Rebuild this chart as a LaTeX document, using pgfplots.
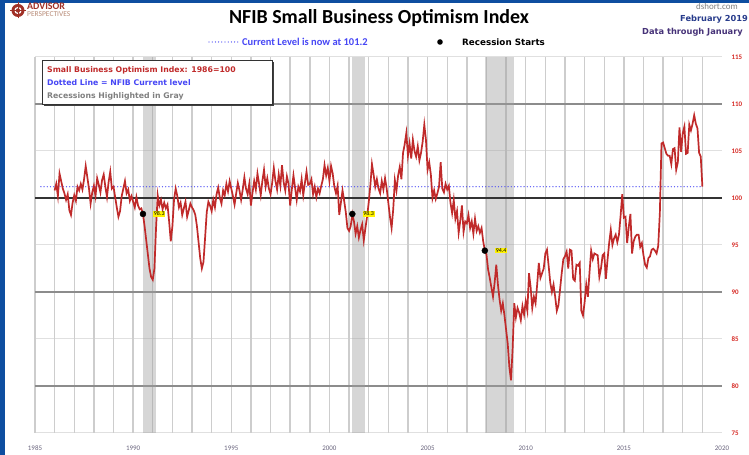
\documentclass[border=0pt]{standalone}
\usepackage{fontspec}
\setmainfont{Carlito}
\newfontfamily\dejavu{DejaVu Sans}
\usepackage{pgfplots}
\usepackage{pgfplotstable}
\pgfplotsset{compat=1.18}
\definecolor{frameblue}{RGB}{14,78,160}
\definecolor{nfibred}{RGB}{192,42,42}
\definecolor{lvlblue}{RGB}{70,70,245}
\definecolor{gridlight}{RGB}{224,224,224}
\definecolor{griddark}{RGB}{140,140,140}
\definecolor{gridv}{RGB}{205,205,205}
\definecolor{logored}{RGB}{160,48,38}
\definecolor{logotan}{RGB}{185,140,120}
\definecolor{xlab}{RGB}{105,100,125}
\definecolor{ylab}{RGB}{215,45,40}
\definecolor{datecol}{RGB}{40,60,140}
\definecolor{datacol}{RGB}{70,50,120}

\pgfplotstableread[row sep=\\]{
v\\
100.8\\ 101.5\\ 100.2\\ 102.6\\ 101.8\\ 101.0\\ 100.5\\ 99.8\\ 100.4\\ 98.7\\ 98.2\\ 99.5\\
100.3\\ 99.7\\ 101.2\\ 100.8\\ 101.5\\ 100.9\\ 102.0\\ 103.4\\ 102.2\\ 101.0\\ 99.4\\ 100.6\\
101.3\\ 100.2\\ 102.1\\ 101.4\\ 100.6\\ 101.9\\ 102.5\\ 101.2\\ 100.1\\ 101.7\\ 102.8\\ 101.0\\
101.2\\ 100.1\\ 99.0\\ 98.0\\ 98.6\\ 100.2\\ 101.0\\ 101.8\\ 100.5\\ 100.9\\ 99.7\\ 100.2\\
99.6\\ 99.0\\ 100.1\\ 99.2\\ 98.8\\ 98.9\\ 98.3\\ 97.0\\ 95.5\\ 94.0\\ 92.5\\ 91.6\\
91.3\\ 92.5\\ 96.8\\ 100.3\\ 99.2\\ 99.8\\ 98.8\\ 99.5\\ 98.9\\ 99.3\\ 97.5\\ 95.4\\
97.0\\ 99.8\\ 101.0\\ 100.2\\ 99.0\\ 99.5\\ 98.2\\ 98.9\\ 99.6\\ 98.0\\ 98.7\\ 99.4\\
99.0\\ 98.7\\ 98.2\\ 97.0\\ 95.3\\ 93.6\\ 92.5\\ 93.2\\ 95.8\\ 98.5\\ 99.6\\ 99.2\\
98.6\\ 99.8\\ 99.0\\ 100.4\\ 101.1\\ 100.0\\ 99.4\\ 100.8\\ 100.3\\ 101.5\\ 100.7\\ 101.8\\
101.0\\ 100.2\\ 99.3\\ 100.5\\ 101.6\\ 100.8\\ 99.8\\ 100.9\\ 102.2\\ 101.0\\ 100.4\\ 101.5\\
99.2\\ 100.6\\ 101.8\\ 100.9\\ 102.6\\ 101.5\\ 100.3\\ 101.8\\ 103.0\\ 101.2\\ 102.1\\ 101.0\\
100.4\\ 101.6\\ 103.2\\ 101.8\\ 100.9\\ 102.5\\ 101.3\\ 103.5\\ 101.7\\ 100.8\\ 102.3\\ 101.5\\
99.2\\ 100.9\\ 102.4\\ 101.1\\ 99.8\\ 101.2\\ 100.7\\ 102.0\\ 100.3\\ 101.6\\ 102.8\\ 101.4\\
101.5\\ 102.0\\ 100.4\\ 101.2\\ 100.1\\ 101.0\\ 100.5\\ 101.3\\ 102.0\\ 103.5\\ 102.4\\ 103.2\\
101.8\\ 103.4\\ 102.6\\ 101.2\\ 100.5\\ 101.3\\ 98.2\\ 99.5\\ 100.8\\ 99.7\\ 98.5\\ 96.8\\
96.5\\ 97.0\\ 98.3\\ 97.5\\ 96.2\\ 97.0\\ 95.8\\ 96.6\\ 97.2\\ 95.5\\ 96.8\\ 98.0\\
99.5\\ 101.3\\ 103.6\\ 102.5\\ 101.2\\ 102.0\\ 101.0\\ 100.5\\ 101.8\\ 100.9\\ 102.1\\ 101.0\\
99.5\\ 98.0\\ 96.8\\ 98.8\\ 101.9\\ 100.8\\ 102.4\\ 103.3\\ 102.0\\ 104.8\\ 105.7\\ 106.9\\
104.5\\ 105.8\\ 104.2\\ 106.2\\ 105.0\\ 104.4\\ 105.5\\ 104.0\\ 104.8\\ 106.0\\ 107.8\\ 106.2\\
103.0\\ 103.8\\ 102.5\\ 100.0\\ 100.8\\ 99.9\\ 100.5\\ 101.2\\ 103.8\\ 101.0\\ 100.6\\ 101.5\\
100.9\\ 101.3\\ 99.5\\ 98.4\\ 99.8\\ 97.8\\ 98.6\\ 96.3\\ 97.6\\ 99.2\\ 96.4\\ 97.5\\
97.3\\ 98.2\\ 96.8\\ 97.5\\ 96.2\\ 97.8\\ 96.5\\ 97.0\\ 96.3\\ 96.8\\ 95.4\\ 94.4\\
94.0\\ 92.4\\ 91.5\\ 90.5\\ 89.5\\ 91.0\\ 92.9\\ 90.8\\ 89.2\\ 88.0\\ 88.8\\ 87.5\\
86.0\\ 84.5\\ 82.0\\ 80.6\\ 84.0\\ 88.8\\ 87.3\\ 88.3\\ 87.8\\ 87.0\\ 88.5\\ 87.6\\
89.0\\ 88.0\\ 92.0\\ 90.5\\ 88.3\\ 89.5\\ 88.8\\ 90.8\\ 93.1\\ 91.5\\ 92.0\\ 92.5\\
94.1\\ 94.5\\ 92.8\\ 91.0\\ 90.0\\ 90.8\\ 89.5\\ 88.0\\ 88.6\\ 90.3\\ 92.0\\ 93.5\\
93.8\\ 94.3\\ 92.5\\ 94.5\\ 94.4\\ 91.4\\ 91.2\\ 92.9\\ 92.8\\ 93.1\\ 88.0\\ 87.5\\
88.9\\ 90.8\\ 89.5\\ 92.1\\ 94.4\\ 93.5\\ 94.1\\ 94.0\\ 93.9\\ 91.6\\ 92.5\\ 93.9\\
94.1\\ 91.4\\ 93.4\\ 95.2\\ 96.6\\ 95.0\\ 95.7\\ 96.1\\ 95.3\\ 96.1\\ 98.1\\ 100.4\\
97.9\\ 98.0\\ 95.2\\ 96.9\\ 98.3\\ 94.1\\ 95.4\\ 95.9\\ 96.1\\ 96.1\\ 94.8\\ 95.2\\
93.9\\ 92.9\\ 92.6\\ 93.6\\ 93.8\\ 94.5\\ 94.6\\ 94.4\\ 94.1\\ 94.9\\ 98.4\\ 105.8\\
105.9\\ 105.3\\ 104.7\\ 104.5\\ 104.5\\ 103.6\\ 105.2\\ 105.3\\ 103.0\\ 103.8\\ 107.5\\ 104.9\\
106.9\\ 107.6\\ 104.7\\ 104.8\\ 107.8\\ 107.2\\ 107.9\\ 108.8\\ 107.9\\ 107.4\\ 104.8\\ 104.4\\
101.2\\
}\nfib

\pgfplotstableread[row sep=\\]{
x y lab\\
1990.5 98.3 98.3\\
2001.167 98.3 98.3\\
2007.917 94.4 94.4\\
}\recstart

\begin{document}
\begin{tikzpicture}[x=1bp,y=1bp]
\useasboundingbox (0,0) rectangle (749,455);
\fill[white] (0,0) rectangle (749,455);
\fill[frameblue] (0,0) rectangle (5,455);
\fill[frameblue] (0,452) rectangle (749,455);

% logo
\fill[logored] (18,444.5) circle (6.5);
\fill[white] (18,444.5) circle (3.6);
\fill[logored] (18,444.5) circle (2.2);
\draw[logored, line width=1pt] (10,444.5) -- (26,444.5) (18,436.5) -- (18,452.5);
\node[anchor=west, inner sep=0, text=logored, font=\fontsize{10}{10}\selectfont\bfseries] at (27,448.5) {ADVISOR};
\node[anchor=west, inner sep=0, text=logotan, font=\fontsize{7.5}{7.5}\selectfont] at (27,440.5) {PERSPECTIVES};

% title
\node[font=\fontsize{20}{20}\selectfont\bfseries, inner sep=0] at (379,437) {NFIB Small Business Optimism Index};

% top right
\node[font=\fontsize{9}{9}\selectfont, text=gray, inner sep=0] at (717,449) {dshort.com};
\node[font=\dejavu\fontsize{8.3}{8.3}\selectfont\bfseries, text=datecol, inner sep=0, anchor=west] at (680,436) {February 2019};
\node[font=\dejavu\fontsize{8.3}{8.3}\selectfont\bfseries, text=datacol, inner sep=0, anchor=west] at (642,423) {Data through January};

% top legend row
\draw[lvlblue, line width=1.3bp, line cap=round, dash pattern=on 0bp off 3.2bp] (209,413) -- (238,413);
\node[anchor=west, inner sep=0, text=lvlblue, font=\fontsize{10.5}{10.5}\selectfont\bfseries] at (242,413) {Current Level is now at 101.2};
\fill[black] (440,413) circle (2.8);
\node[anchor=west, inner sep=0, font=\dejavu\fontsize{8.8}{8.8}\selectfont\bfseries] at (462,413) {Recession Starts};

\begin{axis}[
  at={(35bp,22bp)}, anchor=south west, scale only axis,
  width=687bp, height=376bp,
  xmin=1985, xmax=2020, ymin=75, ymax=115,
  axis line style={draw=none},
  tick style={draw=none},
  clip=false,
  xtick={1985,1990,...,2020},
  x tick label style={/pgf/number format/1000 sep={}, font=\fontsize{7}{7}\selectfont, text=xlab, yshift=-9bp},
  ytick={75,80,...,115},
  yticklabel pos=right,
  y tick label style={font=\fontsize{7}{7}\selectfont\bfseries, text=ylab, xshift=6bp},
  /pgf/number format/assume math mode=true,
  ymajorgrids, major grid style={gridlight, line width=1bp},
  extra y ticks={80,90,110}, extra y tick labels={},
  extra y tick style={grid=major, major grid style={griddark, line width=1.4bp}},
  extra x ticks={1985,1986,...,2019}, extra x tick labels={},
  extra x tick style={grid=major, major grid style={gridv, line width=1.4bp}},
]
% recession bands
\addplot[draw=none, fill=black!38, fill opacity=0.42] coordinates {(1990.5,75) (1991.17,75) (1991.17,115) (1990.5,115)} -- cycle;
\addplot[draw=none, fill=black!38, fill opacity=0.42] coordinates {(2001.17,75) (2001.83,75) (2001.83,115) (2001.17,115)} -- cycle;
\addplot[draw=none, fill=black!38, fill opacity=0.42] coordinates {(2007.92,75) (2009.42,75) (2009.42,115) (2007.92,115)} -- cycle;
% 100 line
\addplot[black!80, line width=2bp] coordinates {(1985,100) (2020,100)};
% current level
\addplot[lvlblue, line width=1.3bp, line cap=round, dash pattern=on 0bp off 3.2bp] coordinates {(1985.3,101.2) (2019,101.2)};
% index
\addplot[nfibred, line width=1.7bp] table[x expr=1986+\coordindex/12, y=v] {\nfib};
% recession starts
\addplot[only marks, mark=*, mark size=3bp, black,
  nodes near coords, point meta=explicit symbolic,
  nodes near coords style={anchor=west, xshift=10bp, fill=yellow, inner sep=0.8bp, text=black, font=\fontsize{6}{6}\selectfont}]
  table[x=x, y=y, meta=lab] {\recstart};
\end{axis}

% in-plot legend box
\fill[black!75] (44,349) rectangle (274,393);
\draw[black!80, fill=white, line width=0.6bp] (42,351) rectangle (272,395);
\node[anchor=west, inner sep=0, text=nfibred, font=\dejavu\fontsize{7.8}{7.8}\selectfont\bfseries] at (47,385) {Small Business Optimism Index: 1986=100};
\node[anchor=west, inner sep=0, text=lvlblue, font=\dejavu\fontsize{7.8}{7.8}\selectfont\bfseries] at (47,372) {Dotted Line = NFIB Current level};
\node[anchor=west, inner sep=0, text=gray, font=\dejavu\fontsize{7.8}{7.8}\selectfont\bfseries] at (47,359) {Recessions Highlighted in Gray};
\end{tikzpicture}
\end{document}
